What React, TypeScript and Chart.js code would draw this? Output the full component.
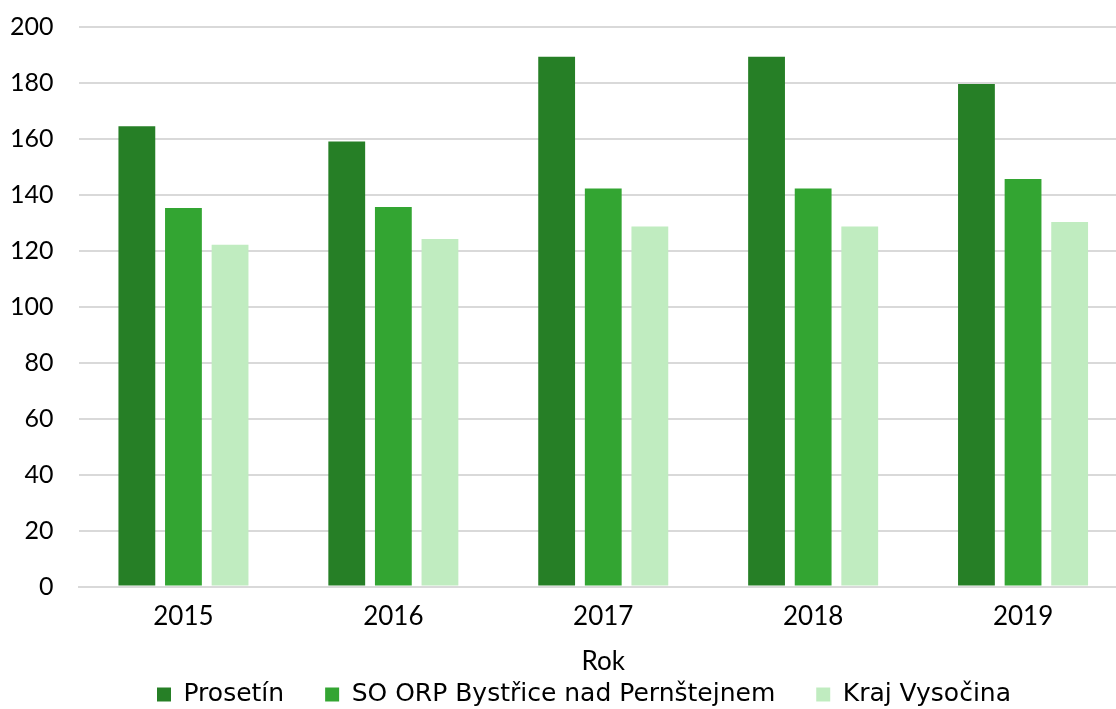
import React, { useEffect, useRef } from "react";
import { Chart, registerables } from "chart.js";

Chart.register(...registerables);

const categories = ["2015", "2016", "2017", "2018", "2019"];
const prosetin = [164.5, 159.1, 189.4, 189.4, 179.6];
const soOrp = [135.3, 135.7, 142.3, 142.3, 145.7];
const kraj = [122.2, 124.2, 128.7, 128.7, 130.3];
const seriesNames = ["Prosetín", "SO ORP Bystřice nad Pernštejnem", "Kraj Vysočina"];
const axisTitle = "Rok";

const FONT = "'Lato', 'DejaVu Sans', sans-serif";
const LEGEND_FONT = "'DejaVu Sans', sans-serif";
const FS = 26;
const FIT_PAD = 2;
const GAP = 41;
const SHIFT_Y = 8;
const SHIFT_X = 55;

// Legend keeps a small vertical padding for layout, but wider horizontal gaps when drawn.
const legendSpread = {
  id: "legendSpread",
  beforeDraw(chart: any) {
    const lg = chart.legend;
    if (!lg || !lg.lineWidths) return;
    const extra = GAP - FIT_PAD;
    lg._saved = { lw: lg.lineWidths.slice(), top: lg.top, left: lg.left };
    lg.options.labels.padding = GAP;
    const n = lg.legendItems ? lg.legendItems.length : 3;
    lg.lineWidths = lg.lineWidths.map((w: number) => w + n * extra);
    lg.top = lg.top - extra + SHIFT_Y;
    lg.left = lg.left + SHIFT_X;
  },
  afterDraw(chart: any) {
    const lg = chart.legend;
    if (!lg || !lg._saved) return;
    lg.options.labels.padding = FIT_PAD;
    lg.lineWidths = lg._saved.lw;
    lg.top = lg._saved.top;
    lg.left = lg._saved.left;
    lg._saved = null;
  },
};

export default function App() {
  const ref = useRef<HTMLCanvasElement | null>(null);
  useEffect(() => {
    if (!ref.current) return;
    const chart = new Chart(ref.current, {
      type: "bar",
      data: {
        labels: categories,
        datasets: [
          { label: seriesNames[0], data: prosetin, backgroundColor: "#267f26" },
          { label: seriesNames[1], data: soOrp, backgroundColor: "#33a532" },
          { label: seriesNames[2], data: kraj, backgroundColor: "#c0ecc0" },
        ].map((d) => ({ ...d, categoryPercentage: 0.666, barPercentage: 0.79 })),
      },
      plugins: [legendSpread],
      options: {
        animation: false,
        responsive: false,
        maintainAspectRatio: false,
        layout: { padding: { left: -15, right: 0, top: 27, bottom: 0 } },
        plugins: {
          legend: {
            position: "bottom",
            labels: {
              boxWidth: 14,
              boxHeight: 14,
              padding: FIT_PAD,
              color: "#000",
              font: { family: LEGEND_FONT, size: 25 },
            },
          },
          tooltip: { enabled: false },
        },
        scales: {
          x: {
            afterFit: (s: any) => {
              s.paddingLeft = 0;
              s.paddingRight = 0;
            },
            grid: { display: false, drawTicks: false },
            border: { color: "#d9d9d9", width: 2 },
            ticks: { color: "#000", font: { family: FONT, size: FS }, padding: 14 },
            title: {
              display: true,
              text: axisTitle,
              color: "#000",
              font: { family: FONT, size: FS },
              padding: { top: 0, bottom: -5 },
            },
          },
          y: {
            min: 0,
            max: 200,
            afterFit: (s: any) => {
              s.paddingTop = 0;
            },
            ticks: { stepSize: 20, color: "#000", font: { family: FONT, size: 25 }, padding: 25 },
            grid: { color: "#d9d9d9", lineWidth: 2, drawTicks: false },
            border: { display: false },
          },
        },
      },
    });
    return () => chart.destroy();
  }, []);
  return (
    <div
      style={{
        position: "absolute",
        left: 0,
        top: 0,
        width: 1116,
        height: 709,
        overflow: "hidden",
        background: "#fff",
      }}
    >
      <canvas ref={ref} width={1128} height={709} style={{ display: "block" }} />
    </div>
  );
}
